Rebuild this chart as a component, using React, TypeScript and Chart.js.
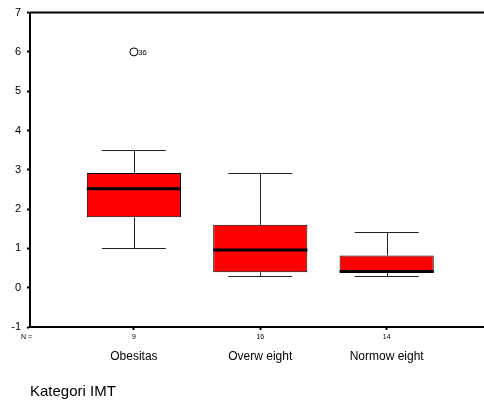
import { useEffect, useRef } from 'react';
import { Chart, registerables } from 'chart.js';
Chart.register(...registerables);

const categories = ['Obesitas', 'Overw eight', 'Normow eight'];
const counts = [9, 16, 14];
const whiskerLow = [1.0, 0.31, 0.31];
const q1 = [1.79, 0.39, 0.39];
const median = [2.52, 0.96, 0.41];
const q3 = [2.92, 1.6, 0.82];
const whiskerHigh = [3.5, 2.91, 1.41];
const outlierCategory = [0];
const outlierValue = [6.0];
const outlierLabel = ['36'];
const yTickValues = [-1, 0, 1, 2, 3, 4, 5, 6, 7];
const categoryPositions = categories.map((_, i) => i + 1);

const FONT = "'Liberation Sans', Arial, sans-serif";

const boxExtras = {
  id: 'boxExtras',
  afterDatasetsDraw(chart: any) {
    const { ctx, chartArea } = chart;
    const x = chart.scales.x;
    const y = chart.scales.y;
    const meta = chart.getDatasetMeta(0);
    ctx.save();
    // top frame line
    ctx.strokeStyle = '#000';
    ctx.lineWidth = 2;
    ctx.beginPath();
    ctx.moveTo(chartArea.left, chartArea.top);
    ctx.lineTo(chart.width, chartArea.top);
    ctx.stroke();

    categoryPositions.forEach((pos, i) => {
      const cx = Math.round(x.getPixelForValue(pos)) + 0.5;
      const capL = x.getPixelForValue(pos - 0.253);
      const capR = x.getPixelForValue(pos + 0.253);
      const yLow = Math.round(y.getPixelForValue(whiskerLow[i])) + 0.5;
      const yHigh = Math.round(y.getPixelForValue(whiskerHigh[i])) + 0.5;
      const yQ1 = y.getPixelForValue(q1[i]);
      const yQ3 = y.getPixelForValue(q3[i]);
      ctx.strokeStyle = '#222';
      ctx.lineWidth = 1;
      ctx.beginPath();
      ctx.moveTo(cx, yQ3);
      ctx.lineTo(cx, yHigh);
      ctx.moveTo(capL, yHigh);
      ctx.lineTo(capR, yHigh);
      ctx.moveTo(cx, yQ1);
      ctx.lineTo(cx, yLow);
      ctx.moveTo(capL, yLow);
      ctx.lineTo(capR, yLow);
      ctx.stroke();
      // median
      const el = meta.data[i];
      const half = el.width / 2;
      const ym = y.getPixelForValue(median[i]);
      ctx.strokeStyle = '#000';
      ctx.lineWidth = 3;
      ctx.beginPath();
      ctx.moveTo(el.x - half, ym);
      ctx.lineTo(el.x + half, ym);
      ctx.stroke();
    });

    // outlier labels
    ctx.fillStyle = '#000';
    ctx.font = `8px ${FONT}`;
    ctx.textBaseline = 'middle';
    ctx.textAlign = 'left';
    outlierCategory.forEach((c, i) => {
      const px = x.getPixelForValue(categoryPositions[c]);
      const py = y.getPixelForValue(outlierValue[i]);
      ctx.fillText(outlierLabel[i], px + 4, py + 0.5);
    });

    // N = label
    ctx.font = `7px ${FONT}`;
    ctx.textAlign = 'left';
    ctx.fillText('N =', chartArea.left - 9, chartArea.bottom + 10);
    ctx.restore();
  },
};

export default function App() {
  const ref = useRef<HTMLCanvasElement>(null);
  useEffect(() => {
    if (!ref.current) return;
    Chart.defaults.font.family = FONT;
    const chart = new Chart(ref.current, {
      type: 'bar',
      data: {
        datasets: [
          {
            type: 'bar',
            data: categoryPositions.map((p, i) => ({ x: p, y: [q1[i], q3[i]] })) as any,
            backgroundColor: '#FF0000',
            borderColor: '#000',
            borderWidth: 1,
            borderSkipped: false,
            categoryPercentage: 1,
            barPercentage: 0.745,
          },
          {
            type: 'scatter',
            data: outlierCategory.map((c, i) => ({ x: categoryPositions[c], y: outlierValue[i] })),
            pointRadius: 4,
            pointBackgroundColor: '#fff',
            pointBorderColor: '#000',
            pointBorderWidth: 1,
          } as any,
        ],
      },
      options: {
        animation: false,
        responsive: true,
        maintainAspectRatio: false,
        layout: { autoPadding: false, padding: { top: 12, left: 0, right: 0, bottom: 0 } },
        plugins: { legend: { display: false }, tooltip: { enabled: false } },
        scales: {
          x: {
            type: 'linear',
            position: 'bottom',
            offset: false,
            min: 0.178,
            max: 3.77,
            afterBuildTicks: (s: any) => {
              s.ticks = categoryPositions.map((v) => ({ value: v }));
            },
            afterFit: (s: any) => {
              s.height = 14;
              s.paddingLeft = 0;
              s.paddingRight = 0;
            },
            ticks: {
              autoSkip: false,
              maxRotation: 0,
              padding: 3,
              color: '#000',
              font: { size: 7 },
              callback: (_v: any, i: number) => String(counts[i]),
            },
            grid: { offset: false, drawOnChartArea: false, drawTicks: true, tickLength: 3, tickWidth: 2, tickColor: '#000' },
            border: { display: true, color: '#000', width: 2 },
          },
          x2: {
            type: 'linear',
            position: 'bottom',
            offset: false,
            min: 0.178,
            max: 3.77,
            afterBuildTicks: (s: any) => {
              s.ticks = categoryPositions.map((v) => ({ value: v }));
            },
            afterFit: (s: any) => {
              s.height = 61;
              s.paddingLeft = 0;
              s.paddingRight = 0;
            },
            ticks: {
              autoSkip: false,
              maxRotation: 0,
              padding: 8,
              color: '#000',
              font: { size: 12 },
              callback: (_v: any, i: number) => categories[i],
            },
            grid: { display: false, drawTicks: false, offset: false },
            border: { display: false },
            title: {
              display: true,
              text: 'Kategori IMT',
              align: 'start',
              color: '#000',
              font: { size: 15 },
              padding: 1,
            },
          },
          y: {
            type: 'linear',
            min: -1,
            max: 7,
            afterBuildTicks: (s: any) => {
              s.ticks = yTickValues.map((v) => ({ value: v }));
            },
            afterFit: (s: any) => {
              s.width = 30;
            },
            ticks: { color: '#000', font: { size: 11 }, padding: 6 },
            grid: { drawOnChartArea: false, drawTicks: true, tickLength: 3, tickWidth: 2, tickColor: '#000' },
            border: { display: true, color: '#000', width: 2 },
          },
        },
      } as any,
      plugins: [boxExtras],
    });
    return () => chart.destroy();
  }, []);
  return (
    <div style={{ position: 'absolute', left: 0, top: 0, width: 484, height: 402, background: '#fff' }}>
      <canvas ref={ref} />
    </div>
  );
}
